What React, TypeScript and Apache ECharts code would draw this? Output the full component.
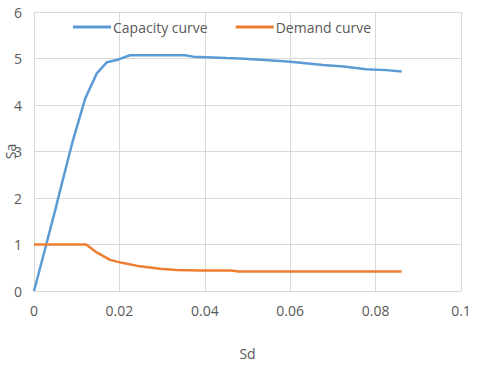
import React, { useEffect, useRef } from "react";
import * as echarts from "echarts";

const capacitySd = [0, 0.0025, 0.005, 0.0065, 0.009, 0.012, 0.0147, 0.0171, 0.0198, 0.0225, 0.028, 0.0353, 0.0373, 0.045, 0.0482, 0.055, 0.06, 0.0677, 0.0725, 0.0778, 0.0825, 0.0861];
const capacitySa = [0, 0.87, 1.75, 2.3, 3.2, 4.14, 4.68, 4.92, 4.98, 5.07, 5.07, 5.07, 5.04, 5.01, 5.0, 4.96, 4.93, 4.86, 4.83, 4.77, 4.75, 4.72];
const demandSd = [0, 0.0122, 0.0147, 0.0178, 0.0209, 0.0248, 0.0295, 0.0334, 0.0389, 0.046, 0.048, 0.06, 0.07, 0.08, 0.0861];
const demandSa = [1, 1, 0.83, 0.67, 0.6, 0.53, 0.48, 0.45, 0.44, 0.44, 0.42, 0.42, 0.42, 0.42, 0.42];
const seriesNames = ["Capacity curve", "Demand curve"];

const FONT = "Open Sans";
const TXT = "#595959";

export default function App() {
  const ref = useRef<HTMLDivElement>(null);
  useEffect(() => {
    const chart = echarts.init(ref.current!, null, { renderer: "svg" });
    chart.setOption({
      animation: false,
      backgroundColor: "#ffffff",
      textStyle: { fontFamily: FONT },
      legend: {
        top: 15,
        left: 68,
        itemWidth: 38,
        itemHeight: 3,
        itemGap: 28,
        icon: "rect",
        textStyle: { color: TXT, fontSize: 14, fontFamily: FONT, padding: [0, 0, 0, -3] },
        data: seriesNames,
      },
      grid: { left: 34, right: 19, top: 12, bottom: 77, containLabel: false, outerBoundsMode: "none" },
      xAxis: {
        type: "value",
        min: 0,
        max: 0.1,
        interval: 0.02,
        name: "Sd",
        nameLocation: "middle",
        nameGap: 55,
        nameMoveOverlap: false,
        nameTextStyle: { color: TXT, fontSize: 14, fontFamily: FONT },
        axisLine: { show: true, lineStyle: { color: "#d9d9d9" } },
        axisTick: { show: false },
        axisLabel: { color: TXT, fontSize: 14, margin: 12, fontFamily: FONT },
        splitLine: { show: true, lineStyle: { color: "#d9d9d9" } },
      },
      yAxis: {
        type: "value",
        min: 0,
        max: 6,
        interval: 1,
        name: "Sa",
        nameLocation: "middle",
        nameRotate: 90,
        nameGap: 17,
        nameMoveOverlap: false,
        nameTextStyle: { color: TXT, fontSize: 14, fontFamily: FONT },
        axisLine: { show: true, lineStyle: { color: "#d9d9d9" } },
        axisTick: { show: false },
        axisLabel: { color: TXT, fontSize: 14, margin: 12, fontFamily: FONT },
        splitLine: { show: true, lineStyle: { color: "#d9d9d9" } },
      },
      series: [
        {
          name: seriesNames[0],
          type: "line",
          showSymbol: false,
          symbol: "none",
          lineStyle: { color: "#5B9BD5", width: 2.5 },
          itemStyle: { color: "#5B9BD5" },
          data: capacitySd.map((x, i) => [x, capacitySa[i]]),
        },
        {
          name: seriesNames[1],
          type: "line",
          showSymbol: false,
          symbol: "none",
          lineStyle: { color: "#ED7D31", width: 2.5 },
          itemStyle: { color: "#ED7D31" },
          data: demandSd.map((x, i) => [x, demandSa[i]]),
        },
      ],
    });
    return () => chart.dispose();
  }, []);
  return (
    <div
      ref={ref}
      style={{ position: "fixed", left: 0, top: 0, width: 480, height: 368 }}
    />
  );
}
